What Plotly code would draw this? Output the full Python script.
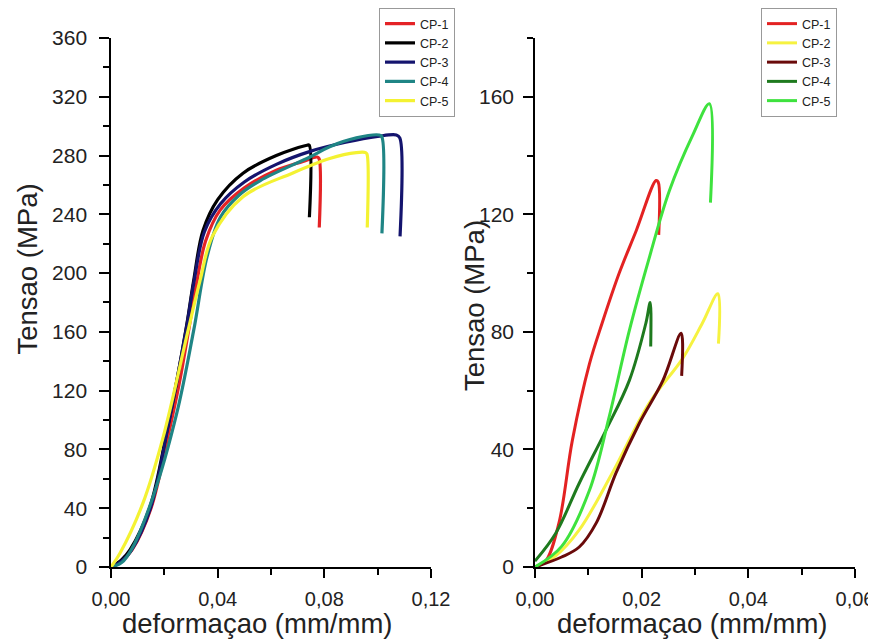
import plotly.graph_objects as go

# ---- Left panel data ----
L_names = ["CP-1", "CP-2", "CP-3", "CP-4", "CP-5"]
L_colors = ["#e42326", "#000000", "#14146e", "#1f8585", "#f4f232"]

L1_x = [0, 0.004, 0.008, 0.015, 0.0215, 0.0255, 0.029, 0.0318, 0.0355, 0.041, 0.050, 0.062, 0.072, 0.0773, 0.0780, 0.0781]
L1_y = [0, 4, 12, 40, 90, 124, 160, 190, 222, 243, 258, 270, 276, 279, 278, 231]

L2_x = [0, 0.004, 0.0071, 0.0146, 0.021, 0.0247, 0.0285, 0.031, 0.0345, 0.040, 0.0495, 0.062, 0.0735, 0.0743, 0.0744]
L2_y = [0, 5, 11.6, 41, 93, 127, 166, 195, 229, 250, 268, 280, 287, 287, 238]

L3_x = [0, 0.004, 0.0075, 0.0148, 0.021, 0.0247, 0.0285, 0.031, 0.035, 0.041, 0.050, 0.062, 0.075, 0.088, 0.100, 0.107, 0.1083, 0.1084]
L3_y = [0, 4, 11, 40, 92, 127, 165, 193, 228, 247, 262, 274, 283, 289, 293, 294, 292, 225]

L4_x = [0, 0.004, 0.008, 0.0158, 0.0247, 0.031, 0.036, 0.041, 0.048, 0.056, 0.0746, 0.082, 0.092, 0.1005, 0.1015, 0.1016]
L4_y = [0, 3, 13, 48, 105, 161, 211, 238, 253, 263, 279, 286, 292, 294, 293, 227]

L5_x = [0, 0.0034, 0.012, 0.0195, 0.0289, 0.0334, 0.038, 0.0495, 0.068, 0.082, 0.092, 0.0955, 0.0960, 0.0961]
L5_y = [0, 9.5, 43.6, 88, 161, 195, 225, 252, 268, 278, 282, 282, 281, 231]

# ---- Right panel data ----
R_names = ["CP-1", "CP-2", "CP-3", "CP-4", "CP-5"]
R_colors = ["#e32222", "#f6f240", "#6a0a0a", "#1e7a1e", "#3ee23e"]

R1_x = [0, 0.002, 0.0045, 0.007, 0.0102, 0.0126, 0.0158, 0.019, 0.0227, 0.0231, 0.0232]
R1_y = [0, 2, 15, 43, 69, 83, 100, 114.5, 131.5, 131, 113]

R2_x = [0, 0.004, 0.0083, 0.0145, 0.0214, 0.0277, 0.0314, 0.0343, 0.0344]
R2_y = [0, 4, 12.6, 32, 55.7, 71, 83, 93, 76]

R3_x = [0, 0.005, 0.0083, 0.0115, 0.0152, 0.0196, 0.024, 0.0274, 0.0275]
R3_y = [0, 3.4, 6.8, 15, 32, 49, 63.5, 79.5, 65]

R4_x = [0, 0.0039, 0.0083, 0.0133, 0.0177, 0.0208, 0.0216, 0.0217]
R4_y = [2, 11.5, 28.5, 46.5, 63.5, 83, 90, 75]

R5_x = [0, 0.005, 0.0102, 0.0139, 0.0177, 0.0214, 0.0252, 0.0296, 0.0327, 0.0329]
R5_y = [0, 7, 26, 51, 80.5, 105, 128, 147, 157.6, 124]

X_TITLE = "deformaçao (mm/mm)"
Y_TITLE = "Tensao (MPa)"

L_data = [(L1_x, L1_y), (L2_x, L2_y), (L3_x, L3_y), (L4_x, L4_y), (L5_x, L5_y)]
R_data = [(R1_x, R1_y), (R2_x, R2_y), (R3_x, R3_y), (R4_x, R4_y), (R5_x, R5_y)]

fig = go.Figure()
for (xs, ys), n, c in zip(L_data, L_names, L_colors):
    fig.add_trace(go.Scatter(x=xs, y=ys, name=n, mode="lines",
                             line=dict(color=c, width=3.2, shape="spline", smoothing=1.0),
                             xaxis="x", yaxis="y", legend="legend"))
for (xs, ys), n, c in zip(R_data, R_names, R_colors):
    fig.add_trace(go.Scatter(x=xs, y=ys, name=n, mode="lines",
                             line=dict(color=c, width=3, shape="spline", smoothing=1.0),
                             xaxis="x2", yaxis="y2", legend="legend2"))

font_family = "Liberation Sans, Arial, sans-serif"
ax_common = dict(showline=True, linecolor="black", linewidth=1.5, showgrid=False, automargin=False,
                 zeroline=False, ticks="outside", tickwidth=1.5, tickcolor="black",
                 ticklabeloverflow="allow")
minor_common = dict(ticks="outside", ticklen=6, tickcolor="black", tickwidth=1.5)
xfont = dict(size=20, color="#222")
yfont = dict(size=21, color="#222")
tfont = dict(size=27.5, color="#222", family=font_family)

# page body has an 8px margin: figure is 868x635 drawn from (8,8)
fig.update_layout(
    width=868, height=635, margin=dict(l=0, r=0, t=0, b=0, autoexpand=False),
    paper_bgcolor="white", plot_bgcolor="white",
    font=dict(family=font_family, color="#222"),
    separators=",.",
    xaxis=dict(domain=[0.1187, 0.4873], range=[0, 0.12], dtick=0.04, tickformat=".2f",
               ticklen=9, ticklabelstandoff=4, tickfont=xfont,
               minor=dict(dtick=0.02, **minor_common), anchor="y", **ax_common),
    yaxis=dict(domain=[0.1197, 0.9528], range=[0, 360], dtick=40,
               ticklen=10, ticklabelstandoff=8, tickfont=yfont,
               minor=dict(dtick=20, **minor_common), anchor="x", **ax_common),
    xaxis2=dict(domain=[0.6071, 0.9758], range=[0, 0.06], dtick=0.02, tickformat=".2f",
                ticklen=9, ticklabelstandoff=4, tickfont=xfont,
                minor=dict(dtick=0.01, **minor_common), anchor="y2", **ax_common),
    yaxis2=dict(domain=[0.1197, 0.9528], range=[0, 180], dtick=40,
                ticklen=10, ticklabelstandoff=5, tickfont=yfont,
                minor=dict(dtick=20, **minor_common), anchor="x2", **ax_common),
    legend=dict(x=0.4274, y=1.0, xanchor="left", yanchor="top",
                bordercolor="#999", borderwidth=1, bgcolor="white",
                font=dict(size=12.5, color="#222"), tracegroupgap=0),
    legend2=dict(x=0.8675, y=1.0, xanchor="left", yanchor="top",
                 bordercolor="#999", borderwidth=1, bgcolor="white",
                 font=dict(size=12.5, color="#222"), tracegroupgap=0),
    annotations=[
        dict(text=X_TITLE, xref="paper", yref="paper", x=0.2874, y=0.031,
             xanchor="center", yanchor="middle", showarrow=False, font=tfont),
        dict(text=X_TITLE, xref="paper", yref="paper", x=0.788, y=0.031,
             xanchor="center", yanchor="middle", showarrow=False, font=tfont),
        dict(text=Y_TITLE, xref="paper", yref="paper", x=0.0225, y=0.589, textangle=-90,
             xanchor="center", yanchor="middle", showarrow=False, font=tfont),
        dict(text=Y_TITLE, xref="paper", yref="paper", x=0.537, y=0.5307, textangle=-90,
             xanchor="center", yanchor="middle", showarrow=False, font=tfont),
    ],
)

fig.write_html("out.html")
